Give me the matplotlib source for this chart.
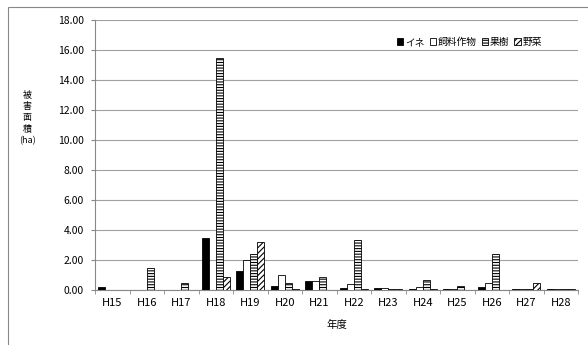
import numpy as np
import matplotlib
matplotlib.use("Agg")
import matplotlib.pyplot as plt
from matplotlib.patches import Rectangle

plt.rcParams['font.family'] = ['Noto Sans CJK JP', 'DejaVu Sans']
plt.rcParams['hatch.linewidth'] = 0.8

years = ['H15', 'H16', 'H17', 'H18', 'H19', 'H20', 'H21',
         'H22', 'H23', 'H24', 'H25', 'H26', 'H27', 'H28']
ine = [0.20, 0.00, 0.00, 3.47, 1.30, 0.25, 0.60, 0.15, 0.15, 0.05, 0.05, 0.20, 0.05, 0.05]
shiryo = [0.00, 0.00, 0.00, 0.00, 2.00, 1.00, 0.60, 0.37, 0.15, 0.20, 0.05, 0.47, 0.05, 0.10]
kaju = [0.00, 1.50, 0.50, 15.50, 2.40, 0.45, 0.85, 3.33, 0.05, 0.68, 0.30, 2.40, 0.05, 0.10]
yasai = [0.00, 0.00, 0.00, 0.90, 3.20, 0.08, 0.00, 0.05, 0.05, 0.05, 0.00, 0.00, 0.45, 0.05]

series = [('イネ', ine, 'black', ''),
          ('飼料作物', shiryo, 'white', ''),
          ('果樹', kaju, 'white', '------'),
          ('野菜', yasai, 'white', '//////')]

fig = plt.figure(figsize=(5.88, 3.45), dpi=100)
ax = fig.add_axes([95/588, 1 - 290/345, 483/588, 270/345])

x = np.arange(len(years))
w = 0.2
for i, (name, vals, fc, hatch) in enumerate(series):
    ax.bar(x + (i - 1.5) * w, vals, w, color=fc, edgecolor='black',
           hatch=hatch, linewidth=0.6, label=name, zorder=3)

ax.set_xlim(-0.5, len(years) - 0.5)
ax.set_ylim(0, 18)
ax.set_yticks(np.arange(0, 18.1, 2))
ax.set_yticklabels(['%.2f' % v for v in np.arange(0, 18.1, 2)], fontsize=7.5)
ax.set_xticks(x)
ax.set_xticklabels(years, fontsize=8)
ax.set_xticks(np.arange(-0.5, len(years)), minor=True)
ax.tick_params(axis='x', which='major', length=0, pad=6)
ax.tick_params(axis='x', which='minor', length=3, color='#888888')
ax.tick_params(axis='y', length=3, color='#888888', pad=5)
ax.grid(axis='y', color='#a0a0a0', linewidth=0.8, zorder=0)
for s in ['top', 'right']:
    ax.spines[s].set_visible(False)
ax.spines['left'].set_color('#888888')
ax.spines['bottom'].set_color('#888888')

ax.set_xlabel('年度', fontsize=7.5, labelpad=8)
fig.text(27/588, 1 - 118/345, '被\n害\n面\n積\n(ha)', fontsize=6.5,
         ha='center', va='center', linespacing=1.35)

ax.legend(loc='center right', bbox_to_anchor=(0.925, 0.918), ncol=4, frameon=False,
          fontsize=7, handlelength=0.65, handleheight=0.65, handletextpad=0.15,
          columnspacing=0.55, borderaxespad=0, borderpad=0)

fig.patches.append(Rectangle((8/588, -0.1), 600/588, 1 - 7/345 + 0.1,
                             transform=fig.transFigure, fill=False,
                             edgecolor='#888888', linewidth=0.8))

fig.savefig('out.png', dpi=100)
